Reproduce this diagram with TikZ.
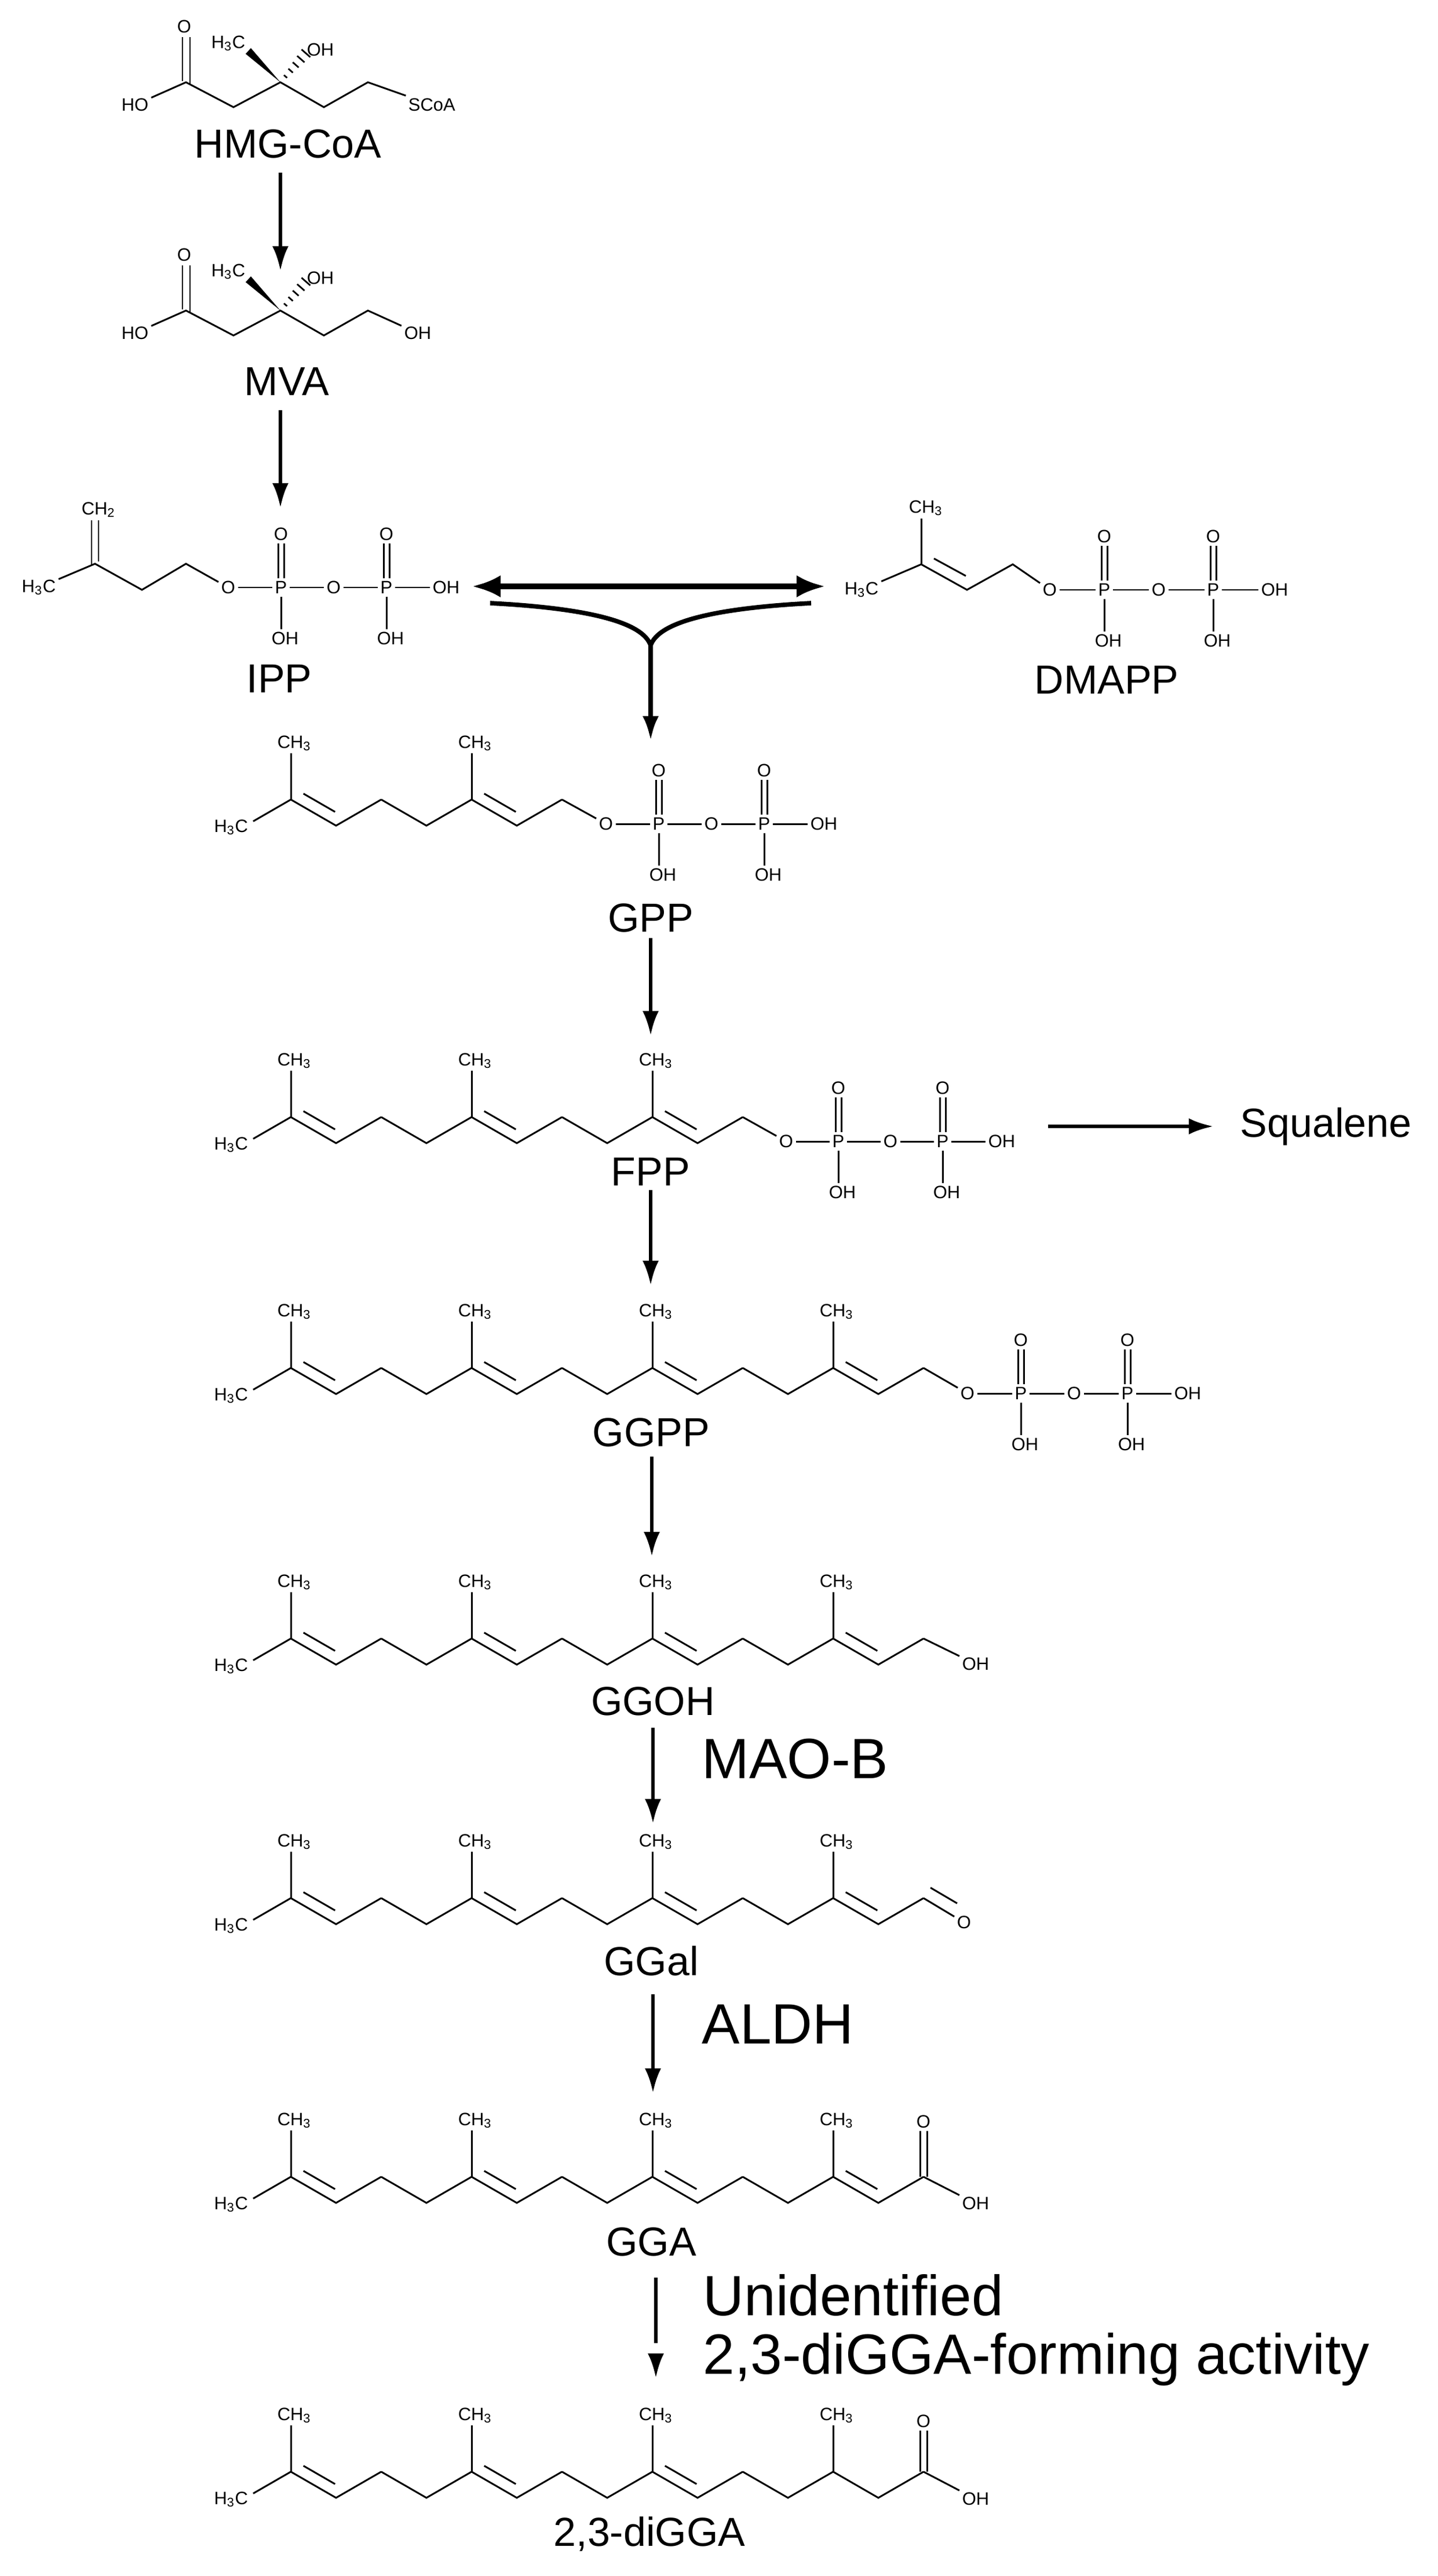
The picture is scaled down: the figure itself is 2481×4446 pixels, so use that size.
\documentclass[tikz,border=0pt]{standalone}
\usepackage{fontspec}
\setmainfont{Liberation Sans}
\usetikzlibrary{arrows.meta,calc}
\tikzset{
 bond/.style={line width=0.85pt},
 sm/.style={font=\fontsize{8.8}{10}\selectfont, inner sep=1.2pt},
 big/.style={font=\fontsize{19.9}{22}\selectfont, inner sep=0pt},
 enz/.style={font=\fontsize{27.9}{32}\selectfont, inner sep=0pt, anchor=west},
 rx/.style={line width=1.7pt, -{Latex[length=12pt,width=8pt]}},
}
\newcommand\chainrow[4]{%
 \pgfmathsetmacro\yl{#2+45}
 \node[sm,anchor=east] (#1-h3c) at (433,\yl+3) {H\textsubscript{3}C};
 \draw[bond] (437,#2+37.5) -- (502,#2);
 \foreach \i in {1,...,#3} {
   \pgfmathsetmacro\cx{502+312*(\i-1)}
   \node[sm] (#1-me\i) at (\cx+6,#2-97) {CH\textsubscript{3}};
   \draw[bond] (\cx,#2) -- (\cx,#2-80);
   \draw[bond] (\cx,#2) -- (\cx+78,\yl) -- (\cx+156,#2);
   \ifnum\i<#3 \draw[bond] (\cx+156,#2) -- (\cx+234,\yl) -- (\cx+312,#2);\fi
   \ifnum\i>#4\relax\else \draw[bond] (\cx+21.7,#2-10.25) -- (\cx+76.3,#2+21.25);\fi
 }
 \pgfmathsetmacro\tx{502+312*(#3-1)+156}
 \coordinate (#1-tail) at (\tx,#2);
}
\newcommand\ppg[4]{%
 \node[sm] (#1-o1) at (#2,#3) {O};
 \node[sm] (#1-p1) at (#2+#4,#3) {P};
 \node[sm] (#1-o2) at (#2+2*#4,#3) {O};
 \node[sm] (#1-p2) at (#2+3*#4,#3) {P};
 \node[sm] (#1-oh) at (#2+4*#4+12,#3) {OH};
 \node[sm] (#1-t1) at (#2+#4,#3-92) {O};
 \node[sm] (#1-t2) at (#2+3*#4,#3-92) {O};
 \node[sm] (#1-b1) at (#2+#4+7,#3+88) {OH};
 \node[sm] (#1-b2) at (#2+3*#4+7,#3+88) {OH};
 \draw[bond] (#1-o1) -- (#1-p1) -- (#1-o2) -- (#1-p2) -- (#1-oh);
 \draw[bond] ($(#1-p1.north)+(-5,0)$) -- ($(#1-t1.south)+(-5,0)$);
 \draw[bond] ($(#1-p1.north)+(5,0)$) -- ($(#1-t1.south)+(5,0)$);
 \draw[bond] ($(#1-p2.north)+(-5,0)$) -- ($(#1-t2.south)+(-5,0)$);
 \draw[bond] ($(#1-p2.north)+(5,0)$) -- ($(#1-t2.south)+(5,0)$);
 \draw[bond] (#1-p1.south) -- (#1-p1.south |- #1-b1.north);
 \draw[bond] (#1-p2.south) -- (#1-p2.south |- #1-b2.north);
}
\newcommand\hmgcore[2]{%
 \node[sm] (#1-ho) at (233,181) {HO};
 \node[sm] (#1-o) at (318,46) {O};
 \node[sm] (#1-me) at (394,75) {H\textsubscript{3}C};
 \node[sm] (#1-oh) at (553,86) {OH};
 \draw[bond] (#1-ho) -- (321,142) -- (403,185) -- (484,142) -- (559,185) -- (635,142) -- (#1-end);
 \draw[bond] (315,140) -- (315,64);
 \draw[bond] (328,145) -- (328,64);
 \fill (484,142) -- (433,83) -- (424,93) -- cycle;
 \foreach \t in {0.2,0.4,0.6,0.8,1.0}
   \draw[line width=0.8pt] ($(484,142)+\t*(44,-50)+{-(2+8*\t)}*(0.75,0.66)$) -- ($(484,142)+\t*(44,-50)+{(2+8*\t)}*(0.75,0.66)$);
}
\begin{document}
\begin{tikzpicture}[x=0.01cm,y=-0.01cm]
\fill[white] (0,0) rectangle (2481,4446);
\useasboundingbox (0,0) rectangle (2481,4446);
% HMG-CoA
\node[sm,anchor=west] (hmg-end) at (700,181) {SCoA};
\hmgcore{hmg}{SCoA}
\node[big] (hmg-lab) at (497,248) {HMG-CoA};
% MVA
\begin{scope}[shift={(0,394)}]
\node[sm] (mva-end) at (721,181) {OH};
\hmgcore{mva}{OH}
\end{scope}
\node[big] (mva-lab) at (495,658) {MVA};
\coordinate (a1s) at (484,298); \coordinate (a1e) at (484,467);
\draw[rx] (a1s) -- (a1e);
\coordinate (a2s) at (484,708); \coordinate (a2e) at (484,876);
\draw[rx] (a2s) -- (a2e);
% IPP
\node[sm] (ipp-me) at (67,1014) {H\textsubscript{3}C};
\node[sm] (ipp-ch2) at (170,880) {CH\textsubscript{2}};
\ppg{ipp}{394}{1014}{91}
\draw[bond] (ipp-me) -- (164,973) -- (245,1018) -- (321,973) -- (ipp-o1);
\draw[bond] (158,975) -- (158,898);
\draw[bond] (170,969) -- (170,898);
\node[big] (ipp-lab) at (482,1171) {IPP};
% DMAPP
\node[sm] (dm-me) at (1487,1018) {H\textsubscript{3}C};
\node[sm] (dm-ch3) at (1598,877) {CH\textsubscript{3}};
\ppg{dm}{1812}{1018}{94}
\draw[bond] (dm-me) -- (1590,974) -- (1669,1018) -- (1748,974) -- (dm-o1);
\draw[bond] (1590,974) -- (1590,895);
\draw[bond] (1612,964) -- (1667,994);
\node[big] (dm-lab) at (1910,1173) {DMAPP};
% double arrow and merge
\coordinate (da1) at (815,1012); \coordinate (da2) at (1424,1012);
\draw[line width=2.6pt,{Latex[length=14pt,width=11pt]}-{Latex[length=14pt,width=11pt]}] (da1) -- (da2);
\coordinate (mg1) at (846,1041); \coordinate (mg2) at (1400,1041);
\coordinate (mgc) at (1123,1114); \coordinate (mge) at (1123,1278);
\draw[line width=2.2pt] (mg1) .. controls (1020,1050) and (1110,1075) .. (mgc);
\draw[line width=2.2pt] (mg2) .. controls (1226,1050) and (1136,1075) .. (mgc);
\draw[line width=2.2pt,-{Latex[length=12pt,width=8pt]}] (mgc) -- (mge);
% GPP
\chainrow{gpp}{1380}{2}{2}
\ppg{gpp}{1046}{1422}{91}
\draw[bond] (gpp-tail) -- (gpp-o1);
\node[big] (gpp-lab) at (1123,1584) {GPP};
\coordinate (a3s) at (1123,1619); \coordinate (a3e) at (1123,1787);
\draw[rx] (a3s) -- (a3e);
% FPP
\chainrow{fpp}{1928}{3}{3}
\ppg{fpp}{1357}{1970}{90}
\draw[bond] (fpp-tail) -- (fpp-o1);
\node[big] (fpp-lab) at (1123,2022) {FPP};
\coordinate (sqs) at (1809,1944); \coordinate (sqe) at (2094,1944);
\node[big,anchor=west] (sq) at (2140,1944) {Squalene};
\draw[rx] (sqs) -- (sqe);
\coordinate (a4s) at (1123,2054); \coordinate (a4e) at (1123,2218);
\draw[rx] (a4s) -- (a4e);
% GGPP
\chainrow{ggpp}{2361}{4}{4}
\ppg{ggpp}{1670}{2405}{92}
\draw[bond] (ggpp-tail) -- (ggpp-o1);
\node[big] (ggpp-lab) at (1124,2472) {GGPP};
\coordinate (a5s) at (1125,2514); \coordinate (a5e) at (1125,2686);
\draw[rx] (a5s) -- (a5e);
% GGOH
\chainrow{ggoh}{2828}{4}{4}
\node[sm] (ggoh-oh) at (1684,2872) {OH};
\draw[bond] (ggoh-tail) -- (ggoh-oh);
\node[big] (ggoh-lab) at (1127,2936) {GGOH};
\coordinate (a6s) at (1127,2982); \coordinate (a6e) at (1127,3147);
\draw[rx] (a6s) -- (a6e);
\node[enz] (maob) at (1211,3036) {MAO-B};
% GGal
\chainrow{ggal}{3276}{4}{4}
\node[sm] (ggal-o) at (1664,3318) {O};
\draw[bond] (ggal-tail) -- (ggal-o);
\draw[bond] (1606,3258) -- (1652,3285);
\node[big] (ggal-lab) at (1124,3384) {GGal};
\coordinate (a7s) at (1127,3442); \coordinate (a7e) at (1127,3612);
\draw[rx] (a7s) -- (a7e);
\node[enz] (aldh) at (1211,3494) {ALDH};
% GGA
\chainrow{gga}{3757}{4}{4}
\node[sm] (gga-o) at (1594,3662) {O};
\node[sm] (gga-oh) at (1684,3803) {OH};
\draw[bond] (gga-tail) -- (gga-oh);
\draw[bond] (1588,3757) -- (gga-o.south -| 1588,0);
\draw[bond] (1600,3757) -- (gga-o.south -| 1600,0);
\node[big] (gga-lab) at (1124,3869) {GGA};
\coordinate (a8s) at (1132,3931); \coordinate (a8e) at (1132,4104);
\draw[rx,dash pattern=on 32pt off 10pt] (a8s) -- (a8e);
\node[enz] (unid1) at (1213,3961) {Unidentified};
\node[enz] (unid2) at (1213,4072) {2,3-diGGA-forming activity};
% 2,3-diGGA
\chainrow{dig}{4266}{4}{3}
\node[sm] (dig-o) at (1594,4179) {O};
\node[sm] (dig-oh) at (1684,4313) {OH};
\draw[bond] (dig-tail) -- (dig-oh);
\draw[bond] (1588,4266) -- (dig-o.south -| 1588,0);
\draw[bond] (1600,4266) -- (dig-o.south -| 1600,0);
\node[big] (dig-lab) at (1121,4374) {2,3-diGGA};
\end{tikzpicture}
\end{document}
